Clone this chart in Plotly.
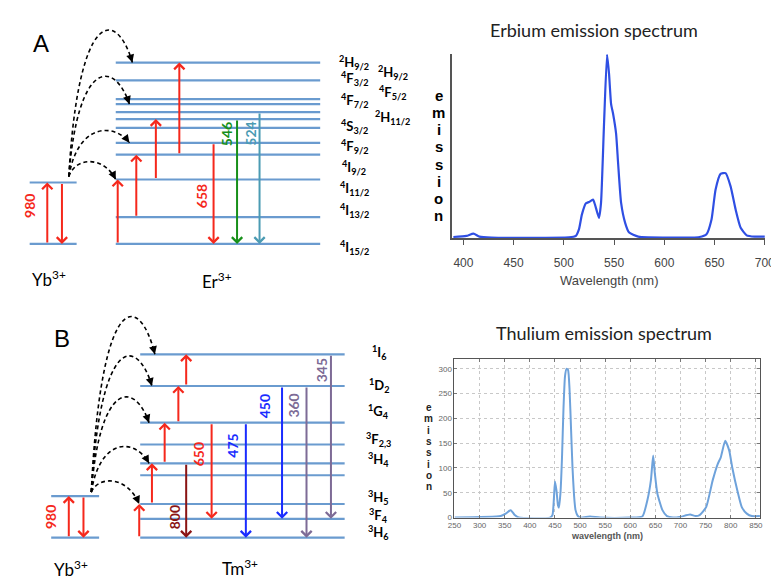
import plotly.graph_objects as go

W, H = 779, 580

# ---------------- data ----------------
# Erbium emission spectrum (normalised intensity)
er_wavelength = [390, 403, 410, 416, 428, 505, 512, 515, 518, 522, 525, 529, 531, 535, 537, 540,
                 543, 545, 547, 549, 552, 554, 557, 561, 565, 574, 635, 642, 647, 651, 656, 661,
                 666, 671, 676, 682, 690, 700]
er_emission = [0.007, 0.013, 0.025, 0.009, 0.004, 0.005, 0.013, 0.048, 0.13, 0.19, 0.197, 0.21,
               0.183, 0.111, 0.192, 0.623, 1.0, 0.892, 0.731, 0.677, 0.569, 0.408, 0.192, 0.084,
               0.031, 0.009, 0.007, 0.022, 0.102, 0.264, 0.35, 0.354, 0.282, 0.156, 0.057, 0.016,
               0.009, 0.009]
er_x_ticks = [400, 450, 500, 550, 600, 650, 700]

# Thulium emission spectrum
tm_wavelength = [250, 342, 352, 362, 370, 378, 440, 445, 448, 450, 453, 456, 458, 461, 464, 467,
                 470, 473, 476, 479, 482, 485, 488, 491, 495, 500, 520, 540, 600, 624, 634, 641,
                 645.5, 649, 654, 664, 673, 685, 698, 719, 730, 738, 751, 764, 774, 780, 789, 797,
                 803, 813, 822, 832, 842, 858]
tm_emission = [0, 3, 8, 15, 5, 0, 0, 5, 40, 73, 55, 25, 20, 50, 120, 220, 285, 300, 298, 260,
               180, 100, 45, 15, 4, 0, 2, 0, 0, 2, 35, 75, 125, 88, 48, 15, 3, 0, 1, 6, 3, 5, 21,
               75, 108, 121, 155, 135, 101, 55, 21, 8, 3, 3]
tm_x_ticks = [250, 300, 350, 400, 450, 500, 550, 600, 650, 700, 750, 800, 850]
tm_y_ticks = [0, 50, 100, 150, 200, 250, 300]

# Energy-level diagram A (Yb -> Er), relative energies
yb_levels_a = [0, 62]
er_levels = [183, 165, 146, 141, 133, 126, 117, 102, 90, 65, 27, 0]
er_labels = ["<sup>2</sup>H<sub>9/2</sub>", "<sup>4</sup>F<sub>3/2</sub>", "<sup>4</sup>F<sub>7/2</sub>",
             "<sup>4</sup>S<sub>3/2</sub>", "<sup>4</sup>F<sub>9/2</sub>", "<sup>4</sup>I<sub>9/2</sub>",
             "<sup>4</sup>I<sub>11/2</sub>", "<sup>4</sup>I<sub>13/2</sub>", "<sup>4</sup>I<sub>15/2</sub>"]
er_label_energy = [183, 167, 145, 118, 98, 77, 56, 34, -4]
er_labels2 = ["<sup>2</sup>H<sub>9/2</sub>", "<sup>4</sup>F<sub>5/2</sub>", "<sup>2</sup>H<sub>11/2</sub>"]
er_label2_energy = [173, 153, 128]
er_pump_from = [0, 27, 65, 90]
er_pump_to = [65, 90, 126, 183]
er_emit_nm = ["658", "546", "524"]
er_emit_from = [102, 126, 133]
er_emit_to = [0, 0, 0]
er_transfer_to = [183, 141, 102, 65]

# Energy-level diagram B (Yb -> Tm)
yb_levels_b = [0, 42]
tm_levels = [185, 153, 116, 94, 75, 63, 34, 19, 0]
tm_labels = ["<sup>1</sup>I<sub>6</sub>", "<sup>1</sup>D<sub>2</sub>", "<sup>1</sup>G<sub>4</sub>",
             "<sup>3</sup>F<sub>2,3</sub>", "<sup>3</sup>H<sub>4</sub>", "<sup>3</sup>H<sub>5</sub>",
             "<sup>3</sup>F<sub>4</sub>", "<sup>3</sup>H<sub>6</sub>"]
tm_label_energy = [187, 154, 127, 99, 79, 41, 22, 5]
tm_pump_from = [0, 34, 75, 116, 153]
tm_pump_to = [34, 75, 116, 153, 185]
tm_emit_nm = ["800", "650", "475", "450", "360", "345"]
tm_emit_from = [75, 116, 116, 153, 153, 185]
tm_emit_to = [0, 19, 0, 19, 0, 19]
tm_transfer_to = [185, 153, 116, 75, 34]

# ---------------- styles ----------------
LEVEL_COLOR = "#6a9bcf"
RED = "#f5281c"
GREEN = "#17901a"
TEAL = "#4b9bb3"
BLUE = "#1a2cff"
DARKRED = "#8a1414"
PURPLE = "#7d6b96"
DFONT = "Lato, Open Sans, sans-serif"
AFONT = "Liberation Sans, Arial, sans-serif"

fig = go.Figure()
shapes = []
ann = []

# ---- spectra ----
fig.add_trace(go.Scatter(x=er_wavelength, y=er_emission, mode="lines",
                         line=dict(color="#2f4fe3", width=2.2, shape="spline", smoothing=0.5),
                         xaxis="x", yaxis="y", hoverinfo="skip", showlegend=False))
fig.add_trace(go.Scatter(x=tm_wavelength, y=tm_emission, mode="lines",
                         line=dict(color="#6ea2db", width=2, shape="spline", smoothing=0.5),
                         xaxis="x2", yaxis="y2", hoverinfo="skip", showlegend=False))
for ax in ("3", "4"):
    fig.add_trace(go.Scatter(x=[], y=[], xaxis="x" + ax, yaxis="y" + ax, showlegend=False))


def px(x):
    return x / W


def py(y):
    return 1 - y / H


def level(xref, yref, x0, x1, e):
    shapes.append(dict(type="line", xref=xref, yref=yref, x0=x0, x1=x1, y0=e, y1=e,
                       line=dict(color=LEVEL_COLOR, width=2.2), layer="below"))


def arrow(xref, yref, x, e0, e1, color):
    ann.append(dict(xref=xref, yref=yref, axref=xref, ayref=yref, x=x, y=e1, ax=x, ay=e0,
                    text="", showarrow=True, arrowhead=4, arrowsize=1, arrowwidth=2,
                    arrowcolor=color, standoff=0, startstandoff=0))


def text(xref, yref, x, e, s, size, color="black", angle=0, bold=False, family=DFONT):
    if bold:
        s = "<b>" + s + "</b>"
    ann.append(dict(xref=xref, yref=yref, x=x, y=e, text=s, showarrow=False, textangle=angle,
                    font=dict(size=size, color=color, family=family),
                    xanchor="center", yanchor="middle"))


def transfer(xref, yref, x0, e0, x3, e3, apex):
    dx = x3 - x0
    hgt = (8 * apex - e0 - e3) / 6
    p1 = (x0 + 0.15 * dx, hgt)
    p2 = (x3 - 0.25 * dx, hgt)
    path = "M {},{} C {},{} {},{} {},{}".format(x0, e0, p1[0], p1[1], p2[0], p2[1], x3, e3)
    shapes.append(dict(type="path", xref=xref, yref=yref, path=path,
                       line=dict(color="black", width=1.6, dash="4px,3px")))
    tx, ty = x3 - p2[0], e3 - p2[1]
    n = (tx ** 2 + ty ** 2) ** 0.5
    ann.append(dict(xref=xref, yref=yref, axref=xref, ayref=yref, x=x3, y=e3,
                    ax=x3 - 5 * tx / n, ay=e3 - 5 * ty / n, text="", showarrow=True,
                    arrowhead=2, arrowsize=1, arrowwidth=1.6, arrowcolor="black",
                    standoff=0, startstandoff=0))


# ---- diagram A ----
xa, ya = "x3", "y3"
for e in yb_levels_a:
    level(xa, ya, 15, 63, e)
for e in er_levels:
    level(xa, ya, 103, 312, e)
arrow(xa, ya, 33, yb_levels_a[0], yb_levels_a[1], RED)
arrow(xa, ya, 48, yb_levels_a[1], yb_levels_a[0], RED)
for xx, f, t in zip([105, 124, 144, 168], er_pump_from, er_pump_to):
    arrow(xa, ya, xx, f, t, RED)
for xx, f, t, c in zip([203, 227, 250], er_emit_from, er_emit_to, [RED, GREEN, TEAL]):
    arrow(xa, ya, xx, f, t, c)
for lx, le, s, c in zip([191, 217, 241], [48, 111, 111], er_emit_nm, [RED, GREEN, TEAL]):
    text(xa, ya, lx, le, s, 14, c, angle=-90, bold=True)
text(xa, ya, 15, 38, "980", 14, RED, angle=-90, bold=True)
for tx_, te, apex in zip([120, 117, 117, 103], er_transfer_to, [210, 166, 113, 83]):
    transfer(xa, ya, 55, 68, tx_, te, apex)
for s, e in zip(er_labels, er_label_energy):
    text(xa, ya, 347, e, s, 13, bold=True)
for s, e in zip(er_labels2, er_label2_energy):
    text(xa, ya, 386, e, s, 13, bold=True)
text(xa, ya, 27, 202, "A", 24, family=AFONT)
text(xa, ya, 35, -35, "Yb<sup>3+</sup>", 17)
text(xa, ya, 207, -37, "Er<sup>3+</sup>", 17)

# ---- diagram B ----
xb, yb = "x4", "y4"
for e in yb_levels_b:
    level(xb, yb, 37, 86, e)
for e in tm_levels:
    level(xb, yb, 128, 337, e)
arrow(xb, yb, 55, yb_levels_b[0], yb_levels_b[1], RED)
arrow(xb, yb, 70, yb_levels_b[1], yb_levels_b[0], RED)
for xx, f, t in zip([127, 140, 153, 167, 175], tm_pump_from, tm_pump_to):
    arrow(xb, yb, xx, f, t, RED)
tm_cols = [DARKRED, RED, BLUE, BLUE, PURPLE, PURPLE]
for xx, f, t, c in zip([175, 201, 236, 273, 298, 323], tm_emit_from, tm_emit_to, tm_cols):
    arrow(xb, yb, xx, f, t, c)
for lx, le, s, c in zip([163, 188, 222, 255, 285, 313], [21, 84, 93, 133, 133, 169], tm_emit_nm, tm_cols):
    text(xb, yb, lx, le, s, 14, c, angle=-90, bold=True)
text(xb, yb, 37, 21, "980", 14, RED, angle=-90, bold=True)
for tx_, te, apex in zip([143, 140, 137, 137, 127], tm_transfer_to, [216, 178, 139, 91, 57]):
    transfer(xb, yb, 78, 46, tx_, te, apex)
for s, e in zip(tm_labels, tm_label_energy):
    text(xb, yb, 372, e, s, 13, bold=True)
text(xb, yb, 48, 201, "B", 24, family=AFONT)
text(xb, yb, 57, -31, "Yb<sup>3+</sup>", 17)
text(xb, yb, 230, -30, "Tm<sup>3+</sup>", 17)


# ---- spectrum labels ----
def ptext(x, y, s, size, color="black", family=DFONT, bold=False):
    if bold:
        s = "<b>" + s + "</b>"
    ann.append(dict(xref="paper", yref="paper", x=px(x), y=py(y), text=s, showarrow=False,
                    font=dict(size=size, color=color, family=family),
                    xanchor="center", yanchor="middle"))


ptext(592, 22, "Erbium emission spectrum", 18, "#222")
ptext(608, 275, "Wavelength (nm)", 13, "#444", AFONT)
ptext(602, 328, "Thulium emission spectrum", 18, "#222")
ptext(605, 533, "wavelength (nm)", 9, "#555", AFONT, bold=True)
for i, ch in enumerate("emission"):
    ptext(433, 88 + i * 17.4, ch, 15, "black", AFONT, bold=True)
    ptext(423, 403 + i * 11.4, ch, 10, "#222", AFONT, bold=True)

fig.update_layout(
    width=W, height=H, margin=dict(l=0, r=0, t=0, b=0),
    paper_bgcolor="white", plot_bgcolor="white", showlegend=False,
    shapes=shapes, annotations=ann,
    xaxis=dict(domain=[px(446.7), px(767)], range=[388.6, 700.5], anchor="y",
               showline=True, linecolor="#555", linewidth=1.5, ticks="outside", ticklen=5,
               tickcolor="#555", tickvals=er_x_ticks, ticklabelstandoff=8,
               tickfont=dict(size=12, color="#444", family=AFONT),
               showgrid=False, zeroline=False),
    yaxis=dict(domain=[py(232.3), py(46.7)], range=[0, 1], anchor="x",
               showline=True, linecolor="#555", linewidth=1.5, showticklabels=False,
               ticks="", showgrid=False, zeroline=False),
    xaxis2=dict(domain=[px(449.3), px(761.7)], range=[250, 858.4], anchor="y2",
                showline=True, mirror="ticks", linecolor="#555", linewidth=1, ticks="inside",
                ticklen=3, tickcolor="#777", tickvals=tm_x_ticks,
                tickfont=dict(size=8, color="#666", family=AFONT),
                showgrid=True, gridcolor="#c8c8c8", griddash="dot", zeroline=False),
    yaxis2=dict(domain=[py(514), py(354)], range=[0, 320], anchor="x2",
                showline=True, mirror="ticks", linecolor="#555", linewidth=1, ticks="inside",
                ticklen=3, tickcolor="#777", tickvals=tm_y_ticks,
                tickfont=dict(size=8, color="#666", family=AFONT),
                showgrid=True, gridcolor="#c8c8c8", griddash="dot", zeroline=False),
    xaxis3=dict(domain=[0, px(400)], range=[0, 400], anchor="y3", visible=False),
    yaxis3=dict(domain=[0.5, 1.0], range=[-52, 238], anchor="x3", visible=False),
    xaxis4=dict(domain=[0, px(400)], range=[0, 400], anchor="y4", visible=False),
    yaxis4=dict(domain=[0, 0.5], range=[-45.7, 244.3], anchor="x4", visible=False),
)

fig.write_html("out.html")
